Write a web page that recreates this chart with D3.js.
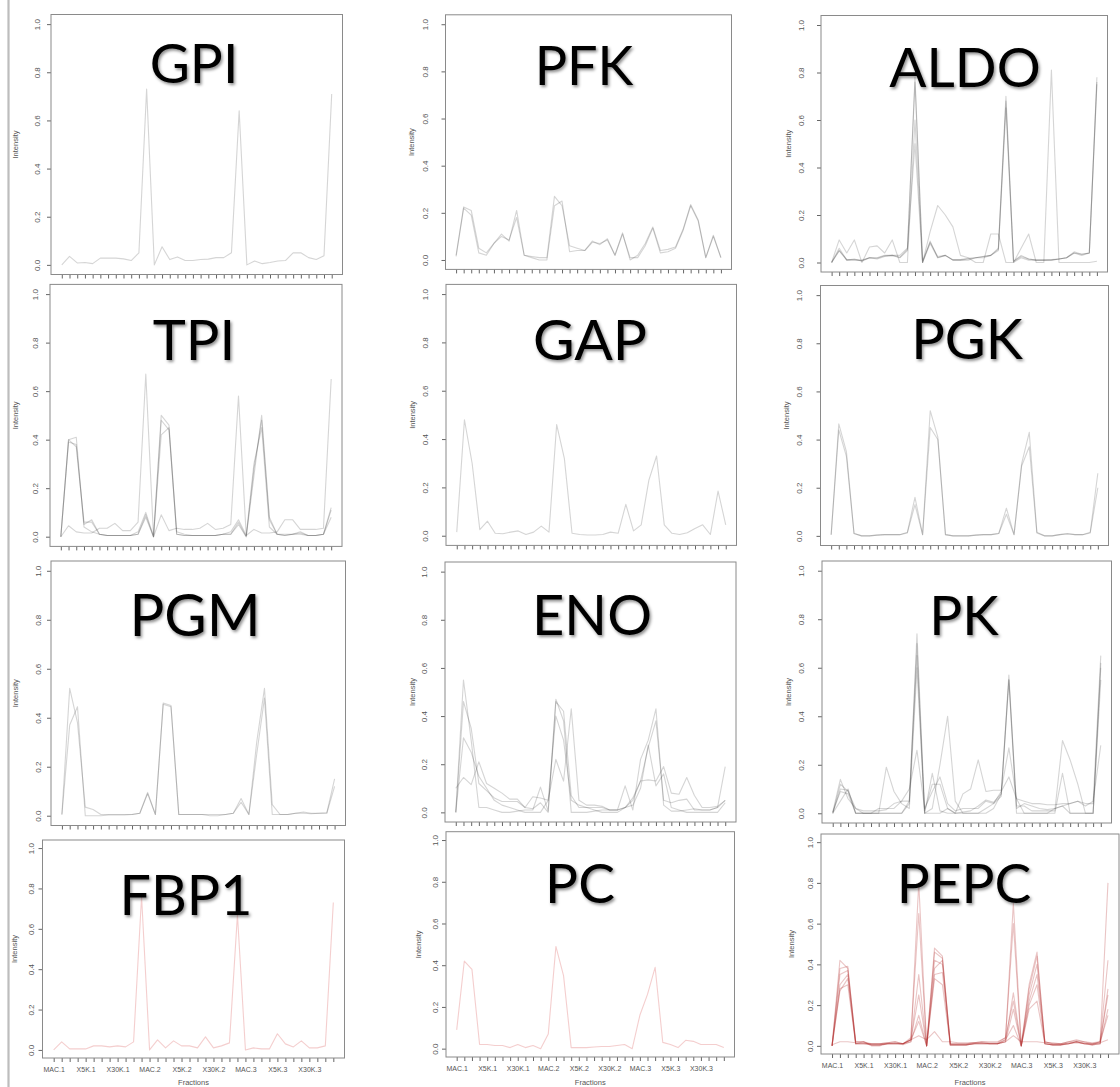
<!DOCTYPE html>
<html>
<head>
<meta charset="utf-8">
<script src="https://cdn.jsdelivr.net/npm/d3@7"></script>
<style>
  html, body { margin: 0; padding: 0; background: #fff; }
  svg { display: block; }
</style>
</head>
<body>
<script>
// Fractions along the x axis: 36 collected fractions, every 4th one labelled
const fractionIndex = d3.range(1, 37);
const fractionLabels = ["MAC.1", "X5K.1", "X30K.1", "MAC.2", "X5K.2", "X30K.2", "MAC.3", "X5K.3", "X30K.3"];
const intensityTicks = [0, 0.2, 0.4, 0.6, 0.8, 1.0];

// Normalised intensity profiles, one array per peptide/protein
const GPI = [
  [0, 0.035, 0.008, 0.01, 0.005, 0.028, 0.028, 0.028, 0.025, 0.018, 0.05, 0.73, 0, 0.075, 0.022, 0.033, 0.018, 0.018, 0.022, 0.024, 0.03, 0.03, 0.05, 0.64, 0, 0.016, 0.005, 0.01, 0.016, 0.018, 0.05, 0.05, 0.03, 0.022, 0.038, 0.71]
];
const PFK = [
  [0.02, 0.225, 0.21, 0.05, 0.03, 0.07, 0.11, 0.08, 0.21, 0.02, 0.015, 0.01, 0.01, 0.27, 0.23, 0.06, 0.05, 0.04, 0.08, 0.065, 0.09, 0.02, 0.115, 0, 0.02, 0.07, 0.14, 0.04, 0.045, 0.055, 0.13, 0.235, 0.17, 0.01, 0.105, 0.01],
  [0.015, 0.22, 0.19, 0.03, 0.02, 0.07, 0.1, 0.085, 0.18, 0.02, 0.01, 0, 0, 0.23, 0.25, 0.035, 0.04, 0.04, 0.075, 0.07, 0.085, 0.02, 0.11, 0.01, 0.01, 0.06, 0.135, 0.03, 0.035, 0.05, 0.125, 0.23, 0.165, 0.01, 0.1, 0.01]
];
const ALDO = [
  [0, 0.06, 0.01, 0.015, 0.005, 0.02, 0.015, 0.025, 0.03, 0.02, 0.05, 0.78, 0, 0.09, 0.02, 0.03, 0.01, 0.01, 0.015, 0.02, 0.025, 0.03, 0.06, 0.70, 0.005, 0.03, 0.015, 0.01, 0.01, 0.01, 0.015, 0.02, 0.045, 0.035, 0.04, 0.78],
  [0, 0.05, 0.012, 0.012, 0.008, 0.02, 0.018, 0.028, 0.03, 0.022, 0.055, 0.76, 0.005, 0.085, 0.025, 0.03, 0.012, 0.012, 0.018, 0.02, 0.025, 0.03, 0.055, 0.68, 0.005, 0.025, 0.015, 0.01, 0.01, 0.012, 0.015, 0.02, 0.04, 0.035, 0.04, 0.76],
  [0, 0.05, 0.01, 0.01, 0.01, 0.02, 0.02, 0.03, 0.03, 0.03, 0.06, 0.5, 0, 0.13, 0.24, 0.2, 0.15, 0.03, 0.02, 0, 0, 0.12, 0.12, 0, 0, 0.06, 0.12, 0, 0, 0.81, 0, 0, 0, 0, 0, 0.005],
  [0, 0.095, 0.04, 0.095, 0, 0.065, 0.07, 0.04, 0.095, 0, 0, 0.6, 0, 0.08, 0.02, 0.03, 0.01, 0.01, 0.01, 0.02, 0.02, 0.03, 0.05, 0.65, 0, 0.02, 0.01, 0.01, 0.01, 0.01, 0.015, 0.02, 0.04, 0.03, 0.04, 0.75]
];
const TPI = [
  [0, 0.39, 0.38, 0.05, 0.07, 0.01, 0.005, 0.005, 0.005, 0.005, 0.01, 0.08, 0, 0.5, 0.46, 0.01, 0.005, 0.005, 0.005, 0.005, 0.005, 0.01, 0.01, 0.05, 0, 0.25, 0.5, 0.08, 0.01, 0.005, 0.01, 0.015, 0.005, 0.005, 0.01, 0.12],
  [0, 0.4, 0.37, 0.06, 0.06, 0.01, 0.005, 0.005, 0.005, 0.005, 0.01, 0.09, 0, 0.48, 0.44, 0.01, 0.005, 0.005, 0.005, 0.005, 0.005, 0.01, 0.01, 0.06, 0, 0.28, 0.48, 0.07, 0.01, 0.005, 0.01, 0.02, 0.005, 0.005, 0.01, 0.11],
  [0, 0.4, 0.41, 0.04, 0.02, 0.01, 0.005, 0.005, 0.005, 0.005, 0.02, 0.1, 0, 0.42, 0.45, 0.02, 0.01, 0.005, 0.005, 0.005, 0.005, 0.01, 0.02, 0.07, 0.005, 0.3, 0.45, 0.04, 0.01, 0.01, 0.01, 0.01, 0.005, 0.005, 0.01, 0.08],
  [0, 0.045, 0.02, 0.015, 0.015, 0.035, 0.035, 0.055, 0.025, 0.025, 0.06, 0.67, 0, 0.09, 0.025, 0.035, 0.03, 0.03, 0.035, 0.055, 0.03, 0.035, 0.05, 0.58, 0.005, 0.03, 0.015, 0.015, 0.02, 0.07, 0.07, 0.03, 0.03, 0.03, 0.035, 0.65]
];
const GAP = [
  [0.015, 0.48, 0.3, 0.025, 0.06, 0.01, 0.008, 0.015, 0.02, 0.005, 0.015, 0.04, 0.015, 0.46, 0.32, 0.01, 0.005, 0.003, 0.003, 0.005, 0.015, 0.01, 0.13, 0.02, 0.045, 0.23, 0.33, 0.045, 0.01, 0.005, 0.012, 0.03, 0.045, 0.005, 0.185, 0.045]
];
const PGK = [
  [0.005, 0.465, 0.35, 0.01, 0, 0, 0.003, 0.005, 0.005, 0.005, 0.015, 0.16, 0.005, 0.52, 0.41, 0.005, 0, 0, 0, 0.003, 0.005, 0.005, 0.01, 0.115, 0.005, 0.3, 0.43, 0.015, 0, 0, 0.005, 0.01, 0.005, 0.005, 0.015, 0.26],
  [0.005, 0.44, 0.33, 0.01, 0, 0, 0.003, 0.005, 0.005, 0.005, 0.012, 0.13, 0.005, 0.45, 0.4, 0.005, 0, 0, 0, 0.003, 0.005, 0.005, 0.01, 0.09, 0.005, 0.29, 0.37, 0.012, 0, 0, 0.005, 0.008, 0.005, 0.005, 0.012, 0.2]
];
const PGM = [
  [0.005, 0.52, 0.38, 0.035, 0.025, 0.005, 0.005, 0.005, 0.005, 0.005, 0.01, 0.095, 0.005, 0.46, 0.45, 0.005, 0.005, 0.005, 0.005, 0.005, 0.005, 0.005, 0.01, 0.07, 0.005, 0.3, 0.52, 0.045, 0.005, 0.005, 0.01, 0.015, 0.01, 0.01, 0.012, 0.15],
  [0.005, 0.37, 0.445, 0, 0, 0, 0.003, 0.003, 0.003, 0.005, 0.01, 0.09, 0.005, 0.455, 0.445, 0.005, 0.005, 0.005, 0.005, 0, 0, 0.005, 0.01, 0.055, 0.005, 0.25, 0.48, 0.005, 0.005, 0.005, 0.01, 0.01, 0.008, 0.01, 0.01, 0.12]
];
const ENO = [
  [0, 0.55, 0.3, 0.02, 0.02, 0.01, 0, 0, 0.005, 0.01, 0.01, 0.105, 0.005, 0.47, 0.38, 0, 0, 0, 0.005, 0.01, 0.01, 0.01, 0.11, 0.01, 0.22, 0.3, 0.43, 0.03, 0.005, 0.005, 0.01, 0.015, 0.01, 0.01, 0.02, 0.19],
  [0, 0.46, 0.35, 0.12, 0.09, 0.06, 0.045, 0.045, 0.045, 0.02, 0.015, 0.04, 0, 0.46, 0.42, 0.07, 0.02, 0.02, 0.02, 0.02, 0.01, 0.01, 0.02, 0.05, 0.13, 0.27, 0.38, 0.05, 0.04, 0.05, 0.055, 0.01, 0.01, 0.01, 0.02, 0.05],
  [0.1, 0.145, 0.115, 0.21, 0.12, 0.1, 0.08, 0.055, 0.055, 0.02, 0.065, 0.06, 0.05, 0.22, 0.13, 0.43, 0.05, 0.03, 0.03, 0.025, 0.01, 0.01, 0.02, 0.06, 0.13, 0.135, 0.13, 0.19, 0.08, 0.075, 0.145, 0.07, 0.02, 0.02, 0.025, 0.05],
  [0, 0.31, 0.25, 0.15, 0.1, 0.05, 0.03, 0.02, 0.01, 0, 0, 0, 0.05, 0.4, 0.3, 0.05, 0.03, 0.02, 0.01, 0, 0, 0, 0.02, 0.03, 0.1, 0.28, 0.11, 0.16, 0.02, 0.01, 0, 0, 0, 0, 0, 0.04]
];
const PK = [
  [0.005, 0.09, 0.08, 0, 0, 0, 0, 0, 0, 0, 0.04, 0.74, 0.01, 0.12, 0.12, 0.02, 0, 0.005, 0.01, 0.03, 0.055, 0.045, 0.08, 0.57, 0.02, 0.04, 0.03, 0.02, 0.015, 0.02, 0.03, 0.04, 0.05, 0.04, 0.04, 0.65],
  [0.005, 0.14, 0.06, 0.02, 0.01, 0.01, 0.01, 0.015, 0.04, 0.05, 0.1, 0.26, 0.02, 0.09, 0.15, 0.04, 0.01, 0.02, 0.02, 0.02, 0.05, 0.04, 0.09, 0.15, 0.06, 0.05, 0.04, 0.04, 0.035, 0.035, 0.04, 0.04, 0.05, 0.03, 0.05, 0.28],
  [0, 0.12, 0.09, 0.02, 0, 0, 0, 0, 0, 0, 0.05, 0.7, 0, 0.02, 0.2, 0.4, 0.05, 0, 0, 0, 0.02, 0.04, 0.07, 0.55, 0.03, 0.03, 0.01, 0.01, 0.01, 0.01, 0.3, 0.22, 0.12, 0, 0, 0.6],
  [0, 0.1, 0.095, 0, 0, 0, 0, 0.19, 0.09, 0.04, 0.02, 0.6, 0, 0, 0, 0.02, 0, 0.08, 0.1, 0.22, 0.09, 0.095, 0.095, 0.27, 0.06, 0, 0, 0, 0, 0.02, 0.03, 0, 0, 0, 0, 0.55],
  [0, 0.05, 0.1, 0, 0, 0, 0.02, 0.02, 0.02, 0.05, 0.05, 0.65, 0, 0.165, 0.01, 0, 0, 0, 0, 0, 0, 0.02, 0.08, 0.55, 0, 0, 0, 0, 0, 0, 0.165, 0, 0, 0, 0, 0.62]
];
const FBP1 = [
  [0, 0.04, 0.005, 0.005, 0.005, 0.02, 0.02, 0.015, 0.02, 0.015, 0.04, 0.76, 0, 0.05, 0.01, 0.045, 0.02, 0.02, 0.01, 0.065, 0.01, 0.02, 0.035, 0.67, 0, 0.01, 0.005, 0.005, 0.08, 0.03, 0.015, 0.045, 0.01, 0.01, 0.02, 0.73]
];
const PC = [
  [0.09, 0.42, 0.38, 0.02, 0.02, 0.015, 0.015, 0.005, 0.02, 0.005, 0.015, 0, 0.07, 0.49, 0.35, 0.005, 0.005, 0.005, 0.008, 0.01, 0.01, 0.015, 0.02, 0, 0.16, 0.26, 0.39, 0.03, 0.02, 0.005, 0.04, 0.035, 0.02, 0.02, 0.02, 0.005]
];
const PEPC = [
  [0, 0.42, 0.38, 0.02, 0.02, 0.005, 0.005, 0.01, 0.01, 0.01, 0.03, 0.8, 0, 0.48, 0.44, 0.005, 0.005, 0.005, 0.01, 0.015, 0.01, 0.01, 0.03, 0.7, 0, 0.3, 0.46, 0.01, 0.005, 0.005, 0.01, 0.02, 0.01, 0.01, 0.01, 0.8],
  [0, 0.38, 0.39, 0.01, 0.01, 0.01, 0.01, 0.015, 0.02, 0.01, 0.04, 0.65, 0, 0.46, 0.43, 0.01, 0.01, 0.01, 0.015, 0.02, 0.02, 0.02, 0.04, 0.6, 0, 0.28, 0.44, 0.02, 0.01, 0.01, 0.02, 0.03, 0.02, 0.015, 0.02, 0.42],
  [0, 0.35, 0.37, 0.02, 0.02, 0.01, 0.01, 0.01, 0.015, 0.005, 0.02, 0.35, 0, 0.42, 0.4, 0.005, 0.005, 0.005, 0.01, 0.01, 0.01, 0.01, 0.02, 0.26, 0, 0.25, 0.4, 0.01, 0.005, 0.005, 0.015, 0.02, 0.015, 0.005, 0.01, 0.28],
  [0, 0.3, 0.35, 0.01, 0.01, 0.01, 0.01, 0.015, 0.02, 0.01, 0.03, 0.25, 0, 0.38, 0.42, 0.01, 0.01, 0.01, 0.015, 0.02, 0.015, 0.015, 0.04, 0.22, 0, 0.22, 0.35, 0.02, 0.01, 0.01, 0.02, 0.025, 0.02, 0.01, 0.02, 0.25],
  [0, 0.27, 0.33, 0.01, 0.01, 0.005, 0.005, 0.01, 0.01, 0.01, 0.02, 0.15, 0, 0.35, 0.36, 0.005, 0.005, 0.005, 0.01, 0.01, 0.01, 0.01, 0.02, 0.18, 0, 0.2, 0.3, 0.01, 0.005, 0.005, 0.01, 0.02, 0.01, 0.005, 0.01, 0.18],
  [0, 0.28, 0.3, 0.01, 0.02, 0, 0, 0.01, 0.01, 0.01, 0.03, 0.12, 0, 0.33, 0.3, 0.005, 0.005, 0.005, 0.01, 0.01, 0.01, 0.01, 0.03, 0.1, 0, 0.18, 0.22, 0.01, 0.005, 0.005, 0.01, 0.02, 0.01, 0.005, 0.02, 0.15],
  [0.005, 0.02, 0.02, 0.015, 0.015, 0.005, 0.005, 0.01, 0.01, 0.01, 0.03, 0.05, 0.03, 0.07, 0.02, 0.02, 0.015, 0.015, 0.015, 0.015, 0.01, 0.01, 0.02, 0.05, 0.02, 0.02, 0.02, 0.015, 0.015, 0.01, 0.01, 0.015, 0.01, 0.01, 0.015, 0.03]
];

// Panel layout: plot box, title placement and axis label offsets
const panels = [
  { name: "GPI",  series: GPI,  box: [51, 14.5, 291.5, 260],   title: [194, 83, 55],  tickOff: 14,   labOff: 35.7, tone: "grey" },
  { name: "PFK",  series: PFK,  box: [445.5, 14.8, 286, 254.6], title: [584, 85, 54],  tickOff: 20.7, labOff: 34,   tone: "grey" },
  { name: "ALDO", series: ALDO, box: [821, 15.5, 286.5, 256.5], title: [965, 87, 55],  tickOff: 20.3, labOff: 32.7, tone: "grey" },
  { name: "TPI",  series: TPI,  box: [50, 284.4, 292, 262],    title: [194, 360, 56], tickOff: 15,   labOff: 35,   tone: "grey" },
  { name: "GAP",  series: GAP,  box: [446, 284.4, 290.5, 261], title: [590, 360, 57], tickOff: 21,   labOff: 34,   tone: "grey" },
  { name: "PGK",  series: PGK,  box: [820.5, 285.5, 288, 260], title: [967, 359, 56], tickOff: 21,   labOff: 34.3, tone: "grey" },
  { name: "PGM",  series: PGM,  box: [51, 561, 294.5, 264.5],  title: [195, 636, 58], tickOff: 12.7, labOff: 36,   tone: "grey" },
  { name: "ENO",  series: ENO,  box: [445, 562, 291, 260],     title: [592, 635, 56], tickOff: 21,   labOff: 32.6, tone: "grey" },
  { name: "PK",   series: PK,   box: [822, 561, 289.5, 262],   title: [964, 635, 55], tickOff: 21,   labOff: 33.4, tone: "grey" },
  { name: "FBP1", series: FBP1, box: [42.5, 840, 302, 218],    title: [186, 915, 55.5], tickOff: 11, labOff: 27.7, tone: "pink", xLabels: true },
  { name: "PC",   series: PC,   box: [446, 831.7, 288.5, 225.3], title: [580, 903, 55], tickOff: 11, labOff: 27.4, tone: "pink", xLabels: true },
  { name: "PEPC", series: PEPC, box: [821, 834, 298, 220],     title: [964, 903, 55], tickOff: 11,   labOff: 29.3, tone: "red",  xLabels: true }
];

const lineColours = {
  grey: "rgba(30,30,30,0.19)",
  pink: "rgba(225,120,120,0.36)",
  red:  "rgba(175,30,30,0.26)"
};
const axisInk = "#666";
const labelFont = "'Liberation Sans', Arial, sans-serif";

const W = 1120, H = 1087;
const svg = d3.select("body").append("svg").attr("width", W).attr("height", H);

const defs = svg.append("defs");
const shadow = defs.append("filter").attr("id", "titleShadow")
  .attr("x", "-20%").attr("y", "-30%").attr("width", "150%").attr("height", "170%");
shadow.append("feDropShadow").attr("dx", 1.5).attr("dy", 2).attr("stdDeviation", 1.6)
  .attr("flood-color", "#000").attr("flood-opacity", 0.45);

// thin grey frame running down the left edge of the sheet
svg.append("line").attr("x1", 8.5).attr("x2", 8.5).attr("y1", 0).attr("y2", H)
  .attr("stroke", "#bdbdbd").attr("stroke-width", 2.2);

panels.forEach(p => {
  const [bx, by, bw, bh] = p.box;
  const g = svg.append("g").attr("class", "panel");

  // R-style 4% padding around the data range
  const x = d3.scaleLinear().domain([1 - 35 * 0.04, 36 + 35 * 0.04]).range([bx, bx + bw]);
  const y = d3.scaleLinear().domain([-0.04, 1.04]).range([by + bh, by]);

  // y axis with labels running parallel to the axis
  const yAxis = g.append("g").attr("transform", `translate(${bx},0)`).attr("color", axisInk)
    .call(d3.axisLeft(y).tickValues(intensityTicks).tickSize(4).tickFormat(d3.format(".1f")));
  yAxis.select(".domain").remove();
  yAxis.selectAll(".tick text")
    .attr("x", 0).attr("y", -p.tickOff).attr("dy", "0.35em")
    .attr("transform", "rotate(-90)")
    .attr("text-anchor", "middle")
    .attr("fill", "#555")
    .style("font-family", labelFont)
    .style("font-size", "8px");

  // x axis: one tick per fraction
  const xAxis = g.append("g").attr("transform", `translate(0,${by + bh})`).attr("color", axisInk)
    .call(d3.axisBottom(x).tickValues(fractionIndex).tickSize(4).tickPadding(5)
      .tickFormat(d => (p.xLabels && (d - 1) % 4 === 0) ? fractionLabels[(d - 1) / 4] : ""));
  xAxis.select(".domain").remove();
  xAxis.selectAll(".tick text")
    .attr("fill", "#555")
    .style("font-family", labelFont)
    .style("font-size", "7px");

  // axis titles
  g.append("text")
    .attr("transform", `translate(${bx - p.labOff},${by + bh / 2}) rotate(-90)`)
    .attr("text-anchor", "middle").attr("dy", "0.35em")
    .style("font-family", labelFont)
    .style("font-size", "7.5px").attr("fill", "#555")
    .text("Intensity");
  if (p.xLabels) {
    g.append("text")
      .attr("x", bx + bw / 2).attr("y", Math.min(by + bh + 32, H - 2.5))
      .attr("text-anchor", "middle")
      .style("font-family", labelFont)
      .style("font-size", "7.5px").attr("fill", "#555")
      .text("Fractions");
  }

  // profile lines
  const line = d3.line().x((d, i) => x(fractionIndex[i])).y(d => y(d));
  g.append("g").selectAll("path").data(p.series).join("path")
    .attr("d", line)
    .attr("fill", "none")
    .attr("stroke", lineColours[p.tone])
    .attr("stroke-width", 1.1)
    .attr("stroke-linejoin", "round");

  // plot frame
  g.append("rect").attr("x", bx).attr("y", by).attr("width", bw).attr("height", bh)
    .attr("fill", "none").attr("stroke", "#8a8a8a").attr("stroke-width", 1);

  // enzyme name
  g.append("text")
    .attr("x", p.title[0]).attr("y", p.title[1])
    .attr("text-anchor", "middle")
    .style("font-family", "Lato, 'Open Sans', sans-serif")
    .style("font-size", p.title[2] + "px")
    .attr("fill", "#000")
    .attr("filter", "url(#titleShadow)")
    .text(p.name);
});
</script>
</body>
</html>
